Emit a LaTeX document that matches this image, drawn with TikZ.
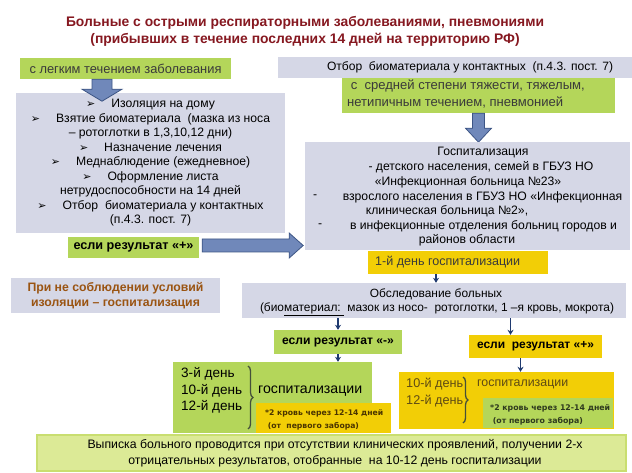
\documentclass[tikz,border=0pt]{standalone}
\usepackage{fontspec}
\setmainfont{Liberation Sans}
\newfontfamily\symfont{DejaVu Sans}
\usetikzlibrary{calc,decorations.pathreplacing,arrows.meta}
\definecolor{lav}{HTML}{D5D7E6}
\definecolor{grn}{HTML}{B4D65A}
\definecolor{yel}{HTML}{F2CE06}
\definecolor{lgrn}{HTML}{DCEA96}
\definecolor{lgrnd}{HTML}{C9DE70}
\definecolor{arrblue}{HTML}{7088BA}
\definecolor{arrdark}{HTML}{3D5585}
\definecolor{navy}{HTML}{1F3A70}
\definecolor{titlered}{HTML}{861820}
\definecolor{brownc}{HTML}{9A5412}
\definecolor{dgray}{HTML}{3A3A3A}
\definecolor{dbrown}{HTML}{4A3400}
\definecolor{olivebrown}{HTML}{5E4A14}
\definecolor{dgreen}{HTML}{2E3A1E}
\definecolor{bracecol}{HTML}{44503A}
\newlength\fitlen
\newcommand\fitfont[4]{\settowidth\fitlen{\fontsize{10}{12}\selectfont#3#4}\pgfmathsetmacro\fitsz{10*#2/\fitlen}\expandafter\xdef\csname sz#1\endcsname{\fitsz}}
\newcommand\mybul{{\symfont\fontsize{11}{11}\selectfont ➢}\hspace{16pt}}
\newcommand\mkvarrow[5]{\draw[barrow] ($(#1)+(-#3,0)$) -- ($(#1)+(-#3,#2-#5)$) -- ($(#1)+(-#4,#2-#5)$) -- ($(#1)+(0,#2)$) -- ($(#1)+(#4,#2-#5)$) -- ($(#1)+(#3,#2-#5)$) -- ($(#1)+(#3,0)$) -- cycle;}
\newcommand\mkharrow[5]{\draw[barrow] ($(#1)+(0,-#3)$) -- ($(#1)+(#2-#5,-#3)$) -- ($(#1)+(#2-#5,-#4)$) -- ($(#1)+(#2,0)$) -- ($(#1)+(#2-#5,#4)$) -- ($(#1)+(#2-#5,#3)$) -- ($(#1)+(0,#3)$) -- cycle;}
\begin{document}
\fitfont{Title}{478}{\bfseries}{Больные с острыми респираторными заболеваниями, пневмониями}%
\fitfont{Legk}{192}{}{с легким течением заболевания}%
\fitfont{Left}{214}{}{Взятие биоматериала\ \ (мазка из носа}%
\fitfont{Plusa}{120}{\bfseries}{если результат «+»}%
\fitfont{Pri}{176}{\bfseries}{При не соблюдении условий}%
\fitfont{Otbor}{286}{}{Отбор\ \ биоматериала у контактных\ \ (п.4.3. пост. 7)}%
\fitfont{Green}{216}{}{нетипичным течением, пневмонией}%
\fitfont{Hosp}{267}{}{в инфекционные отделения больниц городов и}%
\fitfont{Day}{145}{}{1-й день госпитализации}%
\fitfont{Obs}{354}{}{(биоматериал:\ \ мазок из носо-\ \ ротоглотки, 1 –я кровь, мокрота)}%
\fitfont{Minus}{112}{\bfseries}{если результат «-»}%
\fitfont{Plusb}{117}{\bfseries}{если\ \ результат «+»}%
\fitfont{Gdays}{61}{}{10-й день}%
\fitfont{Ggosp}{104}{}{госпитализации}%
\fitfont{Ysmall}{118}{\symfont\bfseries}{*2 кровь через 12-14 дней}%
\fitfont{Ydays}{57}{}{10-й день}%
\fitfont{Ygosp}{91}{}{госпитализации}%
\fitfont{Gsmall}{120}{\symfont\bfseries}{*2 кровь через 12-14 дней}%
\fitfont{Bottom}{495}{}{Выписка больного проводится при отсутствии клинических проявлений, получении 2-х}%
\begin{tikzpicture}[x=1pt,y=-1pt,
  box/.style={inner sep=0pt, draw=none},
  tx/.style={inner sep=0pt},
  small/.style={inner sep=0pt, anchor=west, align=left},
  barrow/.style={fill=arrblue, draw=arrdark, line width=0.8pt, line join=miter},
  tarrow/.style={draw=navy, line width=1.4pt, -{Stealth[length=5pt,width=6pt]}},
  brc/.style={decorate, decoration={brace, amplitude=5pt}, draw=bracecol, line width=1.3pt}]
\useasboundingbox (0,0) rectangle (632,473);
\fill[white] (0,0) rectangle (632,473);

% title
\node[tx, font=\fontsize{\szTitle}{17}\selectfont\bfseries, text=titlered, align=center] (title) at (305,31)
  {Больные с острыми респираторными заболеваниями, пневмониями\\(прибывших в течение последних 14 дней на территорию РФ)};

% left column
\node[box, fill=grn, minimum width=211, minimum height=21, font=\fontsize{\szLegk}{14}\selectfont, text=dgray] (legk) at (125.5,68.5) {с легким течением заболевания};
\node[box, fill=lav, minimum width=269, minimum height=140, align=center, font=\fontsize{\szLeft}{14.5}\selectfont] (left) at (150.5,163)
  {\mybul Изоляция на дому\\
   \mybul Взятие биоматериала\ \ (мазка из носа\\
   – ротоглотки в 1,3,10,12 дни)\\
   \mybul Назначение лечения\\
   \mybul Меднаблюдение (ежедневное)\\
   \mybul Оформление листа\\
   нетрудоспособности на 14 дней\\
   \mybul Отбор\ \ биоматериала у контактных\\
   (п.4.3. пост. 7)};
\coordinate (da1) at ([xshift=-23.5pt]legk.south);
\mkvarrow{da1}{22}{10}{20}{12}

\node[box, fill=grn, minimum width=131, minimum height=21, font=\fontsize{\szPlusa}{13}\selectfont\bfseries] (plus1) at (133.5,247.5) {если результат «+»};
\coordinate (ra) at ([xshift=3pt,yshift=2pt]plus1.east);
\mkharrow{ra}{101}{6.5}{12.5}{14}

\node[box, fill=lav, minimum width=209, minimum height=35, align=center, font=\fontsize{\szPri}{15}\selectfont\bfseries, text=brownc] (pri) at (115.5,295.5) {При не соблюдении условий\\изоляции – госпитализация};

% right column
\node[box, fill=lav, minimum width=354, minimum height=21] (otbor) at (455,67.5) {};
\node[tx, font=\fontsize{\szOtbor}{14}\selectfont] (otbort) at (470,67.5) {Отбор\ \ биоматериала у контактных\ \ (п.4.3. пост. 7)};

\node[box, fill=grn, minimum width=273, minimum height=35] (green2) at (478.5,95.5) {};
\node[small, font=\fontsize{\szGreen}{17}\selectfont, text=dgray] (green2t) at (347,93.5)
  {\ с\ \ средней степени тяжести, тяжелым,\\нетипичным течением, пневмонией};
\mkvarrow{green2.south}{29}{6}{13}{14}

\node[box, fill=lav, minimum width=325, minimum height=108] (hosp) at (467.5,196) {};
\tikzset{htxt/.style={inner sep=0pt, font=\fontsize{\szHosp}{14}\selectfont}}
\node[htxt] (h1) at (483,153) {Госпитализация};
\node[htxt] (h2) at (481,167) {- детского населения, семей в ГБУЗ НО};
\node[htxt] (h3) at (468,182) {«Инфекционная больница №23»};
\node[htxt, anchor=west] (h4d) at (313,197) {-};
\node[htxt] (h4) at (482.5,197) {взрослого населения в ГБУЗ НО «Инфекционная};
\node[htxt] (h5) at (447,211) {клиническая больница №2»,};
\node[htxt, anchor=west] (h6d) at (318,226) {-};
\node[htxt] (h6) at (483.5,226) {в инфекционные отделения больниц городов и};
\node[htxt] (h7) at (467,240) {районов области};

\node[box, fill=yel, minimum width=180, minimum height=23] (day1) at (458,262.5) {};
\node[small, font=\fontsize{\szDay}{14}\selectfont, text=dgray] (day1t) at (375,262.5) {1-й день госпитализации};

\node[box, fill=lav, minimum width=384, minimum height=35] (obs) at (434,300.5) {};
\node[tx, font=\fontsize{\szObs}{14}\selectfont] (obs1) at (436,294) {Обследование больных};
\node[tx, font=\fontsize{\szObs}{14}\selectfont] (obs2) at (437,309) {(био\underline{материал:\ }\ мазок из носо-\ \ ротоглотки, 1 –я кровь, мокрота)};

\node[box, fill=grn, minimum width=128, minimum height=24, font=\fontsize{\szMinus}{13}\selectfont\bfseries] (minus) at (338,342) {если результат «-»};
\node[box, fill=yel, minimum width=133, minimum height=23, font=\fontsize{\szPlusb}{13}\selectfont\bfseries] (plus2) at (535.5,346.5) {если\ \ результат «+»};

% left result block
\node[box, fill=grn, minimum width=199, minimum height=71] (gbig) at (272.5,397.5) {};
\node[small, font=\fontsize{\szGdays}{16.5}\selectfont] (gdays) at (181,390.5) {3-й день\\10-й день\\12-й день};
\node[small, font=\fontsize{\szGgosp}{16}\selectfont] (ggosp) at (258,391) {госпитализации};
\draw[brc] (248,366) -- (248,429);
\node[box, fill=yel, minimum width=135, minimum height=30] (ysmall) at (323.5,418) {};
\node[small, font=\symfont\bfseries\fontsize{\szYsmall}{13}\selectfont, text=dbrown] (ysmallt) at (265,419.5) {*2 кровь через 12-14 дней\\\ (от\ \ первого забора)};

% right result block
\node[box, fill=yel, minimum width=215, minimum height=57] (ybig) at (506.5,400.5) {};
\node[small, font=\fontsize{\szYdays}{17}\selectfont, text=olivebrown] (ydays) at (406,392.5) {10-й день\\12-й день};
\node[small, font=\fontsize{\szYgosp}{14}\selectfont, text=olivebrown] (ygosp) at (477,384) {госпитализации};
\draw[brc] (463,377) -- (463,423);
\node[box, fill=grn, minimum width=130, minimum height=30] (gsmall) at (548,413) {};
\node[small, font=\symfont\bfseries\fontsize{\szGsmall}{13}\selectfont, text=dgreen] (gsmallt) at (490,414.5) {*2 кровь через 12-14 дней\\\ (от первого забора)};

% bottom
\node[box, fill=lgrn, draw=lgrnd, line width=1.5pt, minimum width=589, minimum height=36, align=center, font=\fontsize{\szBottom}{16}\selectfont] (bottom) at (331.5,453)
  {\hspace*{7pt}Выписка больного проводится при отсутствии клинических проявлений, получении 2-х\\\hspace*{7pt}отрицательных результатов, отобранные\ \ на 10-12 день госпитализации};

% thin arrows
\coordinate (c1) at ([xshift=-22pt]day1.south);
\draw[tarrow] (c1) -- (c1 |- obs.north);
\draw[tarrow] (minus.north |- obs.south) -- (minus.north);
\coordinate (c2) at ([xshift=-25pt]plus2.north);
\draw[tarrow] (c2 |- obs.south) -- (c2);
\draw[tarrow] (minus.south) -- (minus.south |- gbig.north);
\coordinate (c3) at ([xshift=-15pt]plus2.south);
\draw[tarrow] (c3) -- (c3 |- ybig.north);
\end{tikzpicture}
\end{document}
